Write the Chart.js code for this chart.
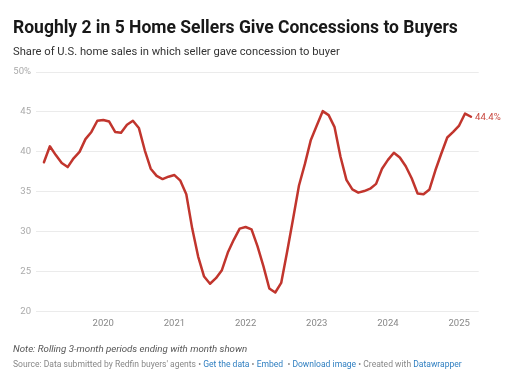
<!DOCTYPE html>
<html>
<head>
<meta charset="utf-8">
<script src="https://cdn.jsdelivr.net/npm/chart.js@4/dist/chart.umd.min.js"></script>
<style>
  html, body { margin: 0; padding: 0; background: #fff; }
  body { width: 510px; height: 382px; position: relative; overflow: hidden; font-family: Roboto, "Noto Sans", sans-serif; }
  #wrap { position: absolute; left: 0; top: 0; width: 510px; height: 382px; }
  .t { position: absolute; white-space: nowrap; line-height: 1.2; }
  #title { left: 13px; top: 16.5px; font-size: 17.5px; font-weight: 700; color: #181818; }
  #sub { left: 13px; top: 45.3px; font-size: 11.2px; color: #333; }
  #note { left: 13px; top: 343.2px; font-size: 9.7px; font-style: italic; color: #555; }
  #src { left: 13px; top: 358.8px; font-size: 8.55px; color: #888; }
  #src a { color: #2f7fc1; text-decoration: none; }
</style>
</head>
<body>
<div id="wrap"><canvas id="c" width="510" height="382"></canvas></div>
<div class="t" id="title">Roughly 2 in 5 Home Sellers Give Concessions to Buyers</div>
<div class="t" id="sub">Share of U.S. home sales in which seller gave concession to buyer</div>
<div class="t" id="note">Note: Rolling 3-month periods ending with month shown</div>
<div class="t" id="src">Source: Data submitted by Redfin buyers' agents • <a>Get the data</a> • <a>Embed</a> &nbsp;• <a>Download image</a> • Created with <a>Datawrapper</a></div>
<script>
const months = [
  '2019-03','2019-04','2019-05','2019-06','2019-07','2019-08','2019-09','2019-10','2019-11','2019-12',
  '2020-01','2020-02','2020-03','2020-04','2020-05','2020-06','2020-07','2020-08','2020-09','2020-10','2020-11','2020-12',
  '2021-01','2021-02','2021-03','2021-04','2021-05','2021-06','2021-07','2021-08','2021-09','2021-10','2021-11','2021-12',
  '2022-01','2022-02','2022-03','2022-04','2022-05','2022-06','2022-07','2022-08','2022-09','2022-10','2022-11','2022-12',
  '2023-01','2023-02','2023-03','2023-04','2023-05','2023-06','2023-07','2023-08','2023-09','2023-10','2023-11','2023-12',
  '2024-01','2024-02','2024-03','2024-04','2024-05','2024-06','2024-07','2024-08','2024-09','2024-10','2024-11','2024-12',
  '2025-01','2025-02','2025-03'
];
const shareWithConcession = [
  38.7,40.7,39.6,38.6,38.1,39.2,40.0,41.6,42.5,43.9,
  44.0,43.8,42.5,42.4,43.4,43.9,43.0,40.2,37.9,37.0,36.6,36.9,
  37.1,36.4,34.7,30.4,26.9,24.4,23.5,24.2,25.2,27.4,29.0,30.4,
  30.6,30.3,28.2,25.7,22.9,22.4,23.6,27.5,31.6,35.8,38.5,41.5,
  43.3,45.1,44.6,43.1,39.4,36.5,35.3,34.9,35.1,35.4,36.0,37.9,
  39.0,39.9,39.3,38.2,36.7,34.8,34.7,35.3,37.7,39.8,41.8,42.5,
  43.3,44.8,44.4
];
const yearTicks = ['2020','2021','2022','2023','2024','2025'];
const yTicks = [20,25,30,35,40,45,50];

const baseYear = 2019;
const monthIndex = s => { const [y,m] = s.split('-').map(Number); return (y-baseYear)*12 + (m-1); };
const points = months.map((m,i) => ({ x: monthIndex(m), y: shareWithConcession[i] }));

const RED = '#c1352d';
const FONT = 'Roboto, "Noto Sans", sans-serif';

const endLabel = {
  id: 'endLabel',
  afterDatasetsDraw(chart) {
    const meta = chart.getDatasetMeta(0);
    const last = meta.data[meta.data.length-1];
    const v = shareWithConcession[shareWithConcession.length-1];
    const ctx = chart.ctx;
    ctx.save();
    ctx.font = '9.6px ' + FONT;
    ctx.fillStyle = '#c8453c';
    ctx.textAlign = 'left';
    ctx.textBaseline = 'middle';
    ctx.fillText(v.toFixed(1) + '%', last.x + 4, last.y + 0.5);
    ctx.restore();
  }
};

new Chart(document.getElementById('c'), {
  type: 'line',
  data: { datasets: [{ data: points, borderColor: RED, borderWidth: 2.5, pointRadius: 0, tension: 0, fill: false, borderJoinStyle: 'round', borderCapStyle: 'round' }] },
  options: {
    responsive: false,
    animation: false,
    devicePixelRatio: 1,
    layout: { padding: { left: 0, right: 31.3, top: 72, bottom: 50.3 } },
    plugins: { legend: { display: false }, tooltip: { enabled: false } },
    scales: {
      x: {
        type: 'linear',
        min: 0.66, max: 75.3,
        grid: { display: false, drawTicks: false },
        border: { display: false },
        afterBuildTicks(axis) { axis.ticks = yearTicks.map(y => ({ value: (Number(y)-baseYear)*12 })); },
        afterFit(axis) { axis.height = 20; },
        ticks: {
          padding: 6,
          color: '#888',
          font: { family: FONT, size: 9.5 },
          maxRotation: 0,
          autoSkip: false,
          callback(v) { return String(baseYear + Math.round(v/12)); }
        }
      },
      y: {
        min: 20, max: 50,
        afterBuildTicks(axis) { axis.ticks = yTicks.map(v => ({ value: v })); },
        afterFit(axis) { axis.width = 36; },
        grid: { color: '#ebebeb', lineWidth: 1, drawTicks: false },
        border: { display: false },
        ticks: {
          padding: 5,
          color: '#aaa',
          font: { family: FONT, size: 9.5 },
          callback(v) { return v === 50 ? v + '%' : String(v); }
        }
      }
    }
  },
  plugins: [endLabel]
});
</script>
</body>
</html>
